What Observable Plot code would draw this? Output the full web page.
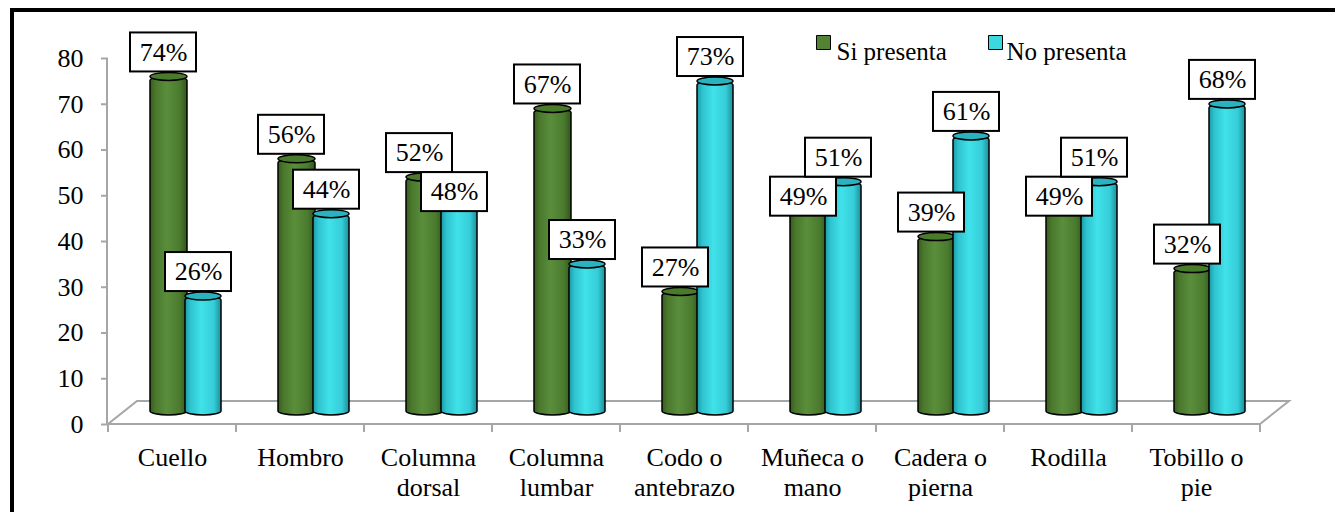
<!DOCTYPE html>
<html><head><meta charset="utf-8">
<script src="https://cdn.jsdelivr.net/npm/d3@7"></script>
<script src="https://cdn.jsdelivr.net/npm/@observablehq/plot@0.6"></script>
<style>
body{margin:0;background:#fff;overflow:hidden}
#wrap{position:relative;width:1335px;height:512px;background:#fff}
#wrap svg{display:block}
#wrap svg text{font-family:'Liberation Serif','Times New Roman',serif}
#border{position:absolute;left:10px;top:8px;width:1500px;height:700px;border:4px solid #000;box-sizing:border-box;pointer-events:none}
</style></head>
<body><div id="wrap"><div id="border"></div></div>
<script>
const categories = ["Cuello","Hombro","Columna dorsal","Columna lumbar","Codo o antebrazo","Muñeca o mano","Cadera o pierna","Rodilla","Tobillo o pie"];
const tickLabels = ["Cuello","Hombro","Columna\ndorsal","Columna\nlumbar","Codo o\nantebrazo","Muñeca o\nmano","Cadera o\npierna","Rodilla","Tobillo o\npie"];
const siPresenta = [74,56,52,67,27,49,39,49,32];
const noPresenta = [26,44,48,33,73,51,61,51,68];
const yTicks = [0,10,20,30,40,50,60,70,80];
const seriesNames = ["Si presenta","No presenta"];
const seriesColors = ["#548235","#3cd8e0"];

const FONT = "'Liberation Serif','Times New Roman',serif";
const W = 1335, H = 512, MT = 58, MB = 88, ML = 108, MR = 75;
const yMax = d3.max(yTicks);

// label dodge: when the two value boxes of a category would collide, the lower one sits just under the higher one
const pxPerUnit = (H - MT - MB) / yMax;
const BOX_H = 39;
const rows = categories.map((c, i) => {
  const si = siPresenta[i], no = noPresenta[i];
  let lSi = si, lNo = no;
  if (Math.abs(si - no) * pxPerUnit < BOX_H) {
    if (si >= no) lNo = si - BOX_H / pxPerUnit; else lSi = no - BOX_H / pxPerUnit;
  }
  return {cat: c, si, no, lSi, lNo};
});

function defs() {
  const g = d3.create("svg:g");
  const d = g.append("defs");
  const mk = (id, stops) => {
    const lg = d.append("linearGradient").attr("id", id).attr("x1","0").attr("x2","1").attr("y1","0").attr("y2","0");
    stops.forEach(([o,c]) => lg.append("stop").attr("offset", o).attr("stop-color", c));
  };
  mk("gGreen", [["0","#375c20"],["0.15","#4a782c"],["0.45","#5a8e3b"],["0.8","#4b7b2e"],["1","#33551d"]]);
  mk("gCyan", [["0","#1d9aa8"],["0.15","#2fc3cf"],["0.45","#40e2ea"],["0.8","#36cdd8"],["1","#1a8f9c"]]);
  return g.node();
}

function floor(index, scales, values, dims) {
  const {width, marginLeft, marginRight} = dims;
  const y = scales.y;
  const x0 = marginLeft, x1 = width - marginRight, y0 = y(0);
  const ddx = 29, ddy = -23;
  const bw = (x1 - x0) / categories.length;
  const g = d3.create("svg:g").attr("stroke", "#a6a6a6").attr("stroke-width", 2).attr("fill", "none");
  g.append("path").attr("d", `M${x0},${y0}L${x1},${y0}L${x1+ddx},${y0+ddy}L${x0+ddx},${y0+ddy}Z`);
  g.append("line").attr("x1", x0-1).attr("x2", x0-1).attr("y1", y(yMax)).attr("y2", y0);
  for (let i = 0; i <= categories.length; i++) {
    g.append("line").attr("x1", x0 + i*bw).attr("x2", x0 + i*bw).attr("y1", y0).attr("y2", y0 + 8);
  }
  return g.node();
}

const bodyOpts = {rx: 18.5, ry: 4, stroke: "#000", strokeWidth: 1.5, dy: -9};
const topOpts = {rx: 18.5, ry: 4, stroke: "#000", strokeWidth: 1.5, dy: -9, insetTop: -4, insetBottom: -4};
const boxOpts = {fill: "#fff", stroke: "#000", strokeWidth: 2, dy: -9, insetTop: -44, insetBottom: 5};
const textOpts = {fontSize: 26, fontFamily: FONT, fill: "#000", dy: -33.5};

const chart = Plot.plot({
  width: W, height: H,
  marginLeft: ML, marginRight: MR, marginTop: MT, marginBottom: MB,
  style: {fontFamily: FONT, fontSize: "25px", color: "#000", background: "#fff"},
  x: {type: "band", domain: categories, padding: 0},
  y: {domain: [0, yMax]},
  marks: [
    defs,
    floor,
    Plot.axisY(yTicks, {tickSize: 7, tickPadding: 18, stroke: "#a6a6a6", strokeWidth: 2, fontSize: 26, fontFamily: FONT, label: null}),
    Plot.axisX({tickSize: 0, tickPadding: 20, fontSize: 26, fontFamily: FONT, lineHeight: 1.15, label: null,
      tickFormat: d => tickLabels[categories.indexOf(d)]}),
    // Si presenta cylinders
    Plot.barY(rows, {x: "cat", y: "si", fill: "url(#gGreen)", insetLeft: 42, insetRight: 49, ...bodyOpts}),
    Plot.barY(rows, {x: "cat", y1: "si", y2: "si", fill: "#4a7a2c", insetLeft: 42, insetRight: 49, ...topOpts}),
    // No presenta cylinders
    Plot.barY(rows, {x: "cat", y: "no", fill: "url(#gCyan)", insetLeft: 77, insetRight: 15, ...bodyOpts}),
    Plot.barY(rows, {x: "cat", y1: "no", y2: "no", fill: "#2bb2bf", insetLeft: 77, insetRight: 15, ...topOpts}),
    // Labels
    Plot.barY(rows, {x: "cat", y1: "lSi", y2: "lSi", insetLeft: 22, insetRight: 40, ...boxOpts}),
    Plot.text(rows, {x: "cat", y: "lSi", text: d => d.si + "%", dx: -9, ...textOpts}),
    Plot.barY(rows, {x: "cat", y1: "lNo", y2: "lNo", insetLeft: 57, insetRight: 5, ...boxOpts}),
    Plot.text(rows, {x: "cat", y: "lNo", text: d => d.no + "%", dx: 26, ...textOpts}),
    // Legend
    Plot.dot([seriesNames[0]], {frameAnchor: "top-left", dx: 715, dy: -16, symbol: "square", r: 7.9, fill: seriesColors[0], stroke: "#000", strokeWidth: 1}),
    Plot.text([seriesNames[0]], {frameAnchor: "top-left", dx: 728, dy: -16, text: d => d, textAnchor: "start", fontSize: 25, fontFamily: FONT, fill: "#000"}),
    Plot.dot([seriesNames[1]], {frameAnchor: "top-left", dx: 887, dy: -16, symbol: "square", r: 7.9, fill: seriesColors[1], stroke: "#000", strokeWidth: 1}),
    Plot.text([seriesNames[1]], {frameAnchor: "top-left", dx: 898, dy: -16, text: d => d, textAnchor: "start", fontSize: 25, fontFamily: FONT, fill: "#000"})
  ]
});
document.getElementById("wrap").insertBefore(chart, document.getElementById("border"));
</script>
</body></html>
